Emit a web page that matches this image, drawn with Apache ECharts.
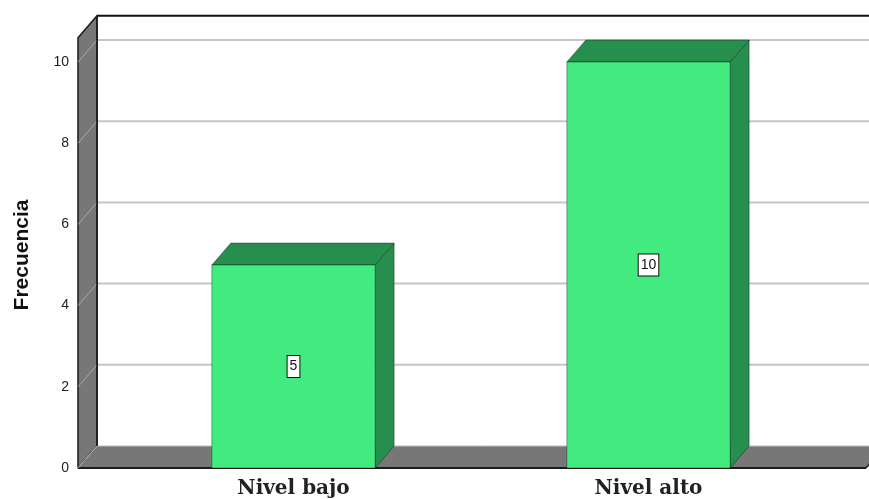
<!DOCTYPE html>
<html>
<head>
<meta charset="utf-8">
<script src="https://cdn.jsdelivr.net/npm/echarts@6/dist/echarts.min.js"></script>
<style>
  html, body { margin: 0; padding: 0; background: #ffffff; }
  #chart { width: 869px; height: 499px; }
</style>
</head>
<body>
<div id="chart"></div>
<script>
// Data
const categories = ['Nivel bajo', 'Nivel alto'];
const frecuencia = [5, 10];
const yTicks = [0, 2, 4, 6, 8, 10];
const yTitle = 'Frecuencia';

// 3D look: depth offset of the back plane and bars (pixels)
const DEPTH_X = 19;
const DEPTH_Y = -22;
const FRAME_TOP = 10.6;      // top of the box, in axis units
const OVERHANG_L = 38;       // front plane extends beyond the grid
const OVERHANG_R = 40;
const BAR_FRAC = 0.46;       // bar width as a share of the category band

const WALL = '#777777';
const BAR_FRONT = '#42EA7F';
const BAR_DARK = '#268F4E';

const chart = echarts.init(document.getElementById('chart'), null, { renderer: 'canvas' });

function frameItem(params, api) {
  const cs = params.coordSys;
  const L = cs.x - OVERHANG_L;
  const R = cs.x + cs.width + OVERHANG_R;
  const y0 = api.coord([0, 0])[1];
  const yT = api.coord([0, FRAME_TOP])[1];
  const farR = R + DEPTH_X + 60;
  const children = [];

  // gridlines on the back plane
  yTicks.forEach(function (t) {
    if (t === 0) return;
    const y = api.coord([0, t])[1] + DEPTH_Y;
    children.push({ type: 'line', shape: { x1: L + DEPTH_X, y1: y, x2: farR, y2: y },
      style: { stroke: '#c6c6c6', lineWidth: 2 } });
  });
  // top edge of the box
  children.push({ type: 'line', shape: { x1: L + DEPTH_X, y1: yT + DEPTH_Y, x2: farR, y2: yT + DEPTH_Y },
    style: { stroke: '#111', lineWidth: 2 } });

  // side wall
  children.push({ type: 'polygon', shape: { points: [[L, y0], [L, yT], [L + DEPTH_X, yT + DEPTH_Y], [L + DEPTH_X, y0 + DEPTH_Y]] },
    style: { fill: WALL, stroke: '#1a1a1a', lineWidth: 1.5, lineJoin: 'round' } });
  yTicks.forEach(function (t) {
    if (t === 0) return;
    const y = api.coord([0, t])[1];
    children.push({ type: 'line', shape: { x1: L, y1: y, x2: L + DEPTH_X, y2: y + DEPTH_Y },
      style: { stroke: '#a8a8a8', lineWidth: 1 } });
  });

  // floor
  children.push({ type: 'polygon', shape: { points: [[L, y0], [R, y0], [R + DEPTH_X, y0 + DEPTH_Y], [L + DEPTH_X, y0 + DEPTH_Y]] },
    style: { fill: WALL, stroke: '#bdbdbd', lineWidth: 1 } });
  children.push({ type: 'line', shape: { x1: L, y1: y0, x2: R, y2: y0 },
    style: { stroke: '#1a1a1a', lineWidth: 2 } });
  children.push({ type: 'line', shape: { x1: R, y1: y0, x2: R + DEPTH_X, y2: y0 + DEPTH_Y },
    style: { stroke: '#1a1a1a', lineWidth: 1.5 } });
  children.push({ type: 'line', shape: { x1: L, y1: y0, x2: L + DEPTH_X, y2: y0 + DEPTH_Y },
    style: { stroke: '#a8a8a8', lineWidth: 1 } });
  children.push({ type: 'line', shape: { x1: L + DEPTH_X, y1: yT + DEPTH_Y, x2: L + DEPTH_X, y2: y0 + DEPTH_Y },
    style: { stroke: '#1a1a1a', lineWidth: 1.5 } });

  return { type: 'group', children: children };
}

function barItem(params, api) {
  const c = api.value(0);
  const v = api.value(1);
  const top = api.coord([c, v]);
  const base = api.coord([c, 0]);
  const mid = api.coord([c, v / 2]);
  const bw = api.size([1, 0])[0] * BAR_FRAC;
  const x0 = top[0] - bw / 2;
  const x1 = top[0] + bw / 2;
  const yt = top[1];
  const yb = base[1];
  const edge = { stroke: 'rgba(0,0,0,0.35)', lineWidth: 1 };
  return {
    type: 'group',
    children: [
      { type: 'polygon', shape: { points: [[x1, yt], [x1 + DEPTH_X, yt + DEPTH_Y], [x1 + DEPTH_X, yb + DEPTH_Y], [x1, yb]] },
        style: Object.assign({ fill: BAR_DARK }, edge) },
      { type: 'polygon', shape: { points: [[x0, yt], [x1, yt], [x1 + DEPTH_X, yt + DEPTH_Y], [x0 + DEPTH_X, yt + DEPTH_Y]] },
        style: Object.assign({ fill: BAR_DARK }, edge) },
      { type: 'rect', shape: { x: x0, y: yt, width: bw, height: yb - yt },
        style: Object.assign({ fill: BAR_FRONT }, edge) },
      { type: 'text', x: top[0], y: mid[1],
        style: { text: String(v), fill: '#111', font: '14px "Liberation Sans", Arial, sans-serif',
          align: 'center', verticalAlign: 'middle', backgroundColor: '#ffffff',
          borderColor: '#111', borderWidth: 1, padding: [4, 2, 3, 2] } }
    ]
  };
}

const option = {
  backgroundColor: '#ffffff',
  animation: false,
  grid: { left: 116, right: 43, top: 62, bottom: 28, containLabel: false },
  xAxis: {
    type: 'category',
    data: categories,
    axisLine: { show: false },
    axisTick: { show: false },
    axisLabel: { margin: 11, color: '#222', fontSize: 20, fontWeight: 'bold', fontFamily: '"DejaVu Serif", serif' }
  },
  yAxis: {
    type: 'value',
    min: 0, max: 10, interval: 2,
    axisLine: { show: false },
    axisTick: { show: false },
    splitLine: { show: false },
    axisLabel: { margin: 47, color: '#222', fontSize: 14, fontFamily: '"Liberation Sans", Arial, sans-serif' }
  },
  graphic: [{
    type: 'text', rotation: Math.PI / 2,
    x: 22, y: 255,
    style: { text: yTitle, fill: '#111', font: 'bold 21px "Liberation Sans", Arial, sans-serif',
      align: 'center', verticalAlign: 'middle' }
  }],
  series: [
    { type: 'custom', z: 1, silent: true, clip: false, renderItem: frameItem, data: [[0, 0]] },
    { type: 'custom', z: 2, silent: true, clip: false, renderItem: barItem,
      data: categories.map(function (c, i) { return [i, frecuencia[i]]; }) }
  ]
};
chart.setOption(option);
</script>
</body>
</html>
